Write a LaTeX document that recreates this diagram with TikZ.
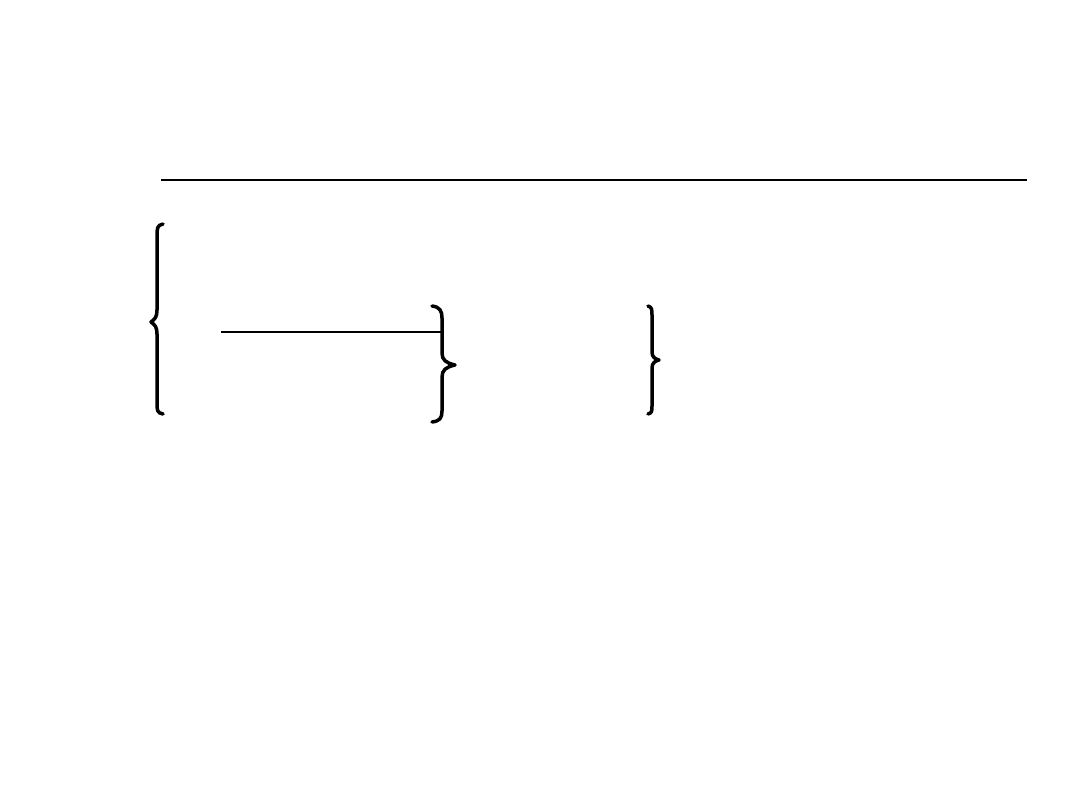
\documentclass[tikz,border=0pt]{standalone}
\begin{document}
\begin{tikzpicture}[x=1pt,y=-1pt,
  rule/.style={line width=2pt},
  bracepath/.style={line width=3.5pt,line cap=round,line join=round}]
\useasboundingbox[fill=white] (0,0) rectangle (1080,810);
% top rule
\coordinate (tl) at (161,180);
\coordinate (tr) at (1027,180);
\draw[rule] (tl) -- (tr);
% left brace
\draw[bracepath] (163,224) .. controls (157,225) and (157,229) .. (157,236) -- (157,310)
  .. controls (157,317) and (155,319) .. (151,322) .. controls (155,325) and (157,327) .. (157,334)
  -- (157,403) .. controls (157,410) and (157,413) .. (163,414);
% middle brace
\draw[bracepath] (432,306) .. controls (440,307) and (442,311) .. (442,318) -- (442,353)
  .. controls (442,360) and (446,363) .. (455,365) .. controls (446,367) and (442,370) .. (442,377)
  -- (442,411) .. controls (442,418) and (440,421) .. (432,422);
% right brace
\draw[bracepath] (648,306) .. controls (652,307) and (652,310) .. (652,315) -- (652,352)
  .. controls (652,357) and (655,359) .. (659,360) .. controls (655,361) and (652,363) .. (652,368)
  -- (652,406) .. controls (652,411) and (652,413) .. (648,414);
% horizontal line to middle brace
\coordinate (hl) at (221,332);
\coordinate (hr) at (442,332);
\draw[rule] (hl) -- (hr);
\end{tikzpicture}
\end{document}
